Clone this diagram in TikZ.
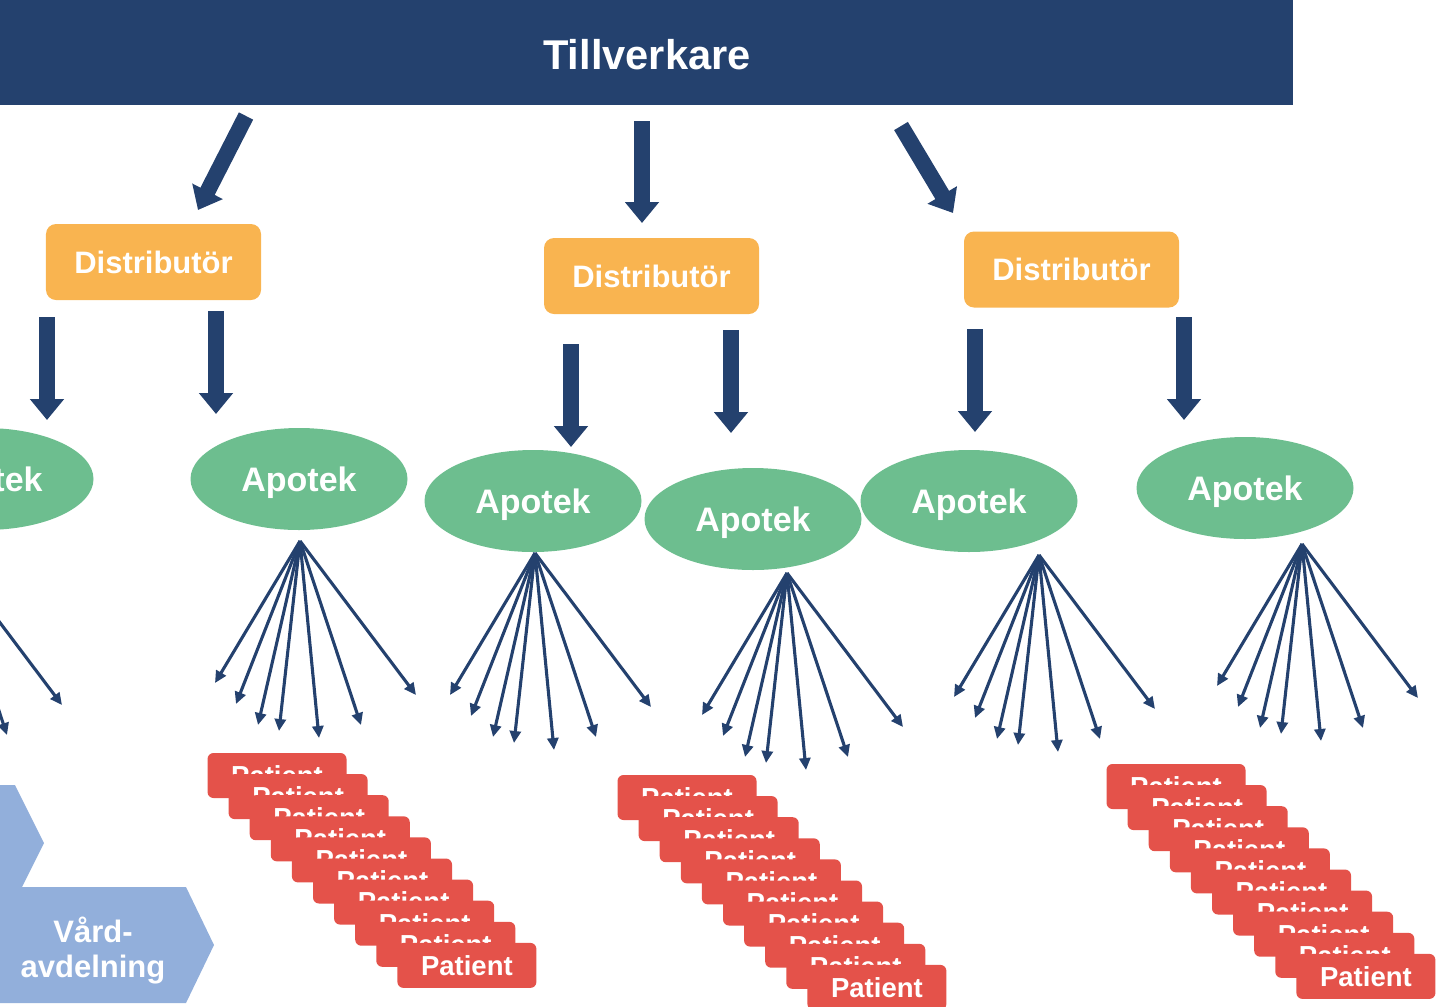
\documentclass[tikz,border=0pt]{standalone}
\usepackage{fontspec}
\setmainfont{Liberation Sans}
\usetikzlibrary{arrows.meta,shapes.geometric,calc}
\definecolor{navy}{HTML}{24416E}
\definecolor{orangec}{HTML}{F9B450}
\definecolor{greenc}{HTML}{6DBE8F}
\definecolor{redc}{HTML}{E4524A}
\definecolor{bluec}{HTML}{92AFDB}
\begin{document}
\begin{tikzpicture}[x=1bp,y=-1bp,
  topbar/.style={fill=navy, minimum width=1293bp, minimum height=105bp, inner sep=0, text=white, font=\bfseries\fontsize{41.6bp}{50bp}\selectfont},
  distbox/.style={fill=orangec, rounded corners=10bp, minimum width=215bp, minimum height=76bp, inner sep=0, text=white, font=\bfseries\fontsize{31bp}{37bp}\selectfont},
  apotek/.style={ellipse, fill=greenc, minimum width=217bp, minimum height=102bp, inner sep=0, text depth=0pt, text=white, font=\bfseries\fontsize{34bp}{40bp}\selectfont},
  patient/.style={fill=redc, rounded corners=6bp, minimum width=139bp, minimum height=45bp, inner sep=0, text=white, font=\bfseries\fontsize{27.5bp}{33bp}\selectfont},
  blockarrow/.style={draw=navy, line width=16bp, -{Triangle[length=21bp,width=33bp]}},
  fanarrow/.style={draw=navy, line width=3.1bp, -{Triangle[length=12bp,width=11bp]}},
  chevron/.style={fill=bluec},
  chevtext/.style={text=white, align=center, font=\bfseries\fontsize{31bp}{35bp}\selectfont}
]
\useasboundingbox (0,0) rectangle (1438,1006);
\clip (0,0) rectangle (1438,1006);

% top bar
\node[topbar, anchor=north west] (till) at (0,0) {};
\node[text=white, font=\bfseries\fontsize{41.6bp}{50bp}\selectfont] (tilltxt) at (647,55) {Tillverkare};

% distributors
\node[distbox] (d1) at (153.5,262) {Distributör};
\node[distbox] (d2) at (651.5,276) {Distributör};
\node[distbox] (d3) at (1071.5,269.5) {Distributör};

% apotek
\node[apotek] (a0) at (-15,479) {Apotek};
\node[apotek] (a1) at (299,479) {Apotek};
\node[apotek] (a2) at (533,501) {Apotek};
\node[apotek] (a3) at (753,519) {Apotek};
\node[apotek] (a4) at (969,501) {Apotek};
\node[apotek] (a5) at (1245,488) {Apotek};

% block arrows from manufacturer
\coordinate (t1s) at (246,116); \coordinate (t1e) at (198,210);
\coordinate (t2s) at (642,121); \coordinate (t2e) at (642,223);
\coordinate (t3s) at (901,126); \coordinate (t3e) at (953,213);
\draw[blockarrow] (t1s) -- (t1e);
\draw[blockarrow] (t2s) -- (t2e);
\draw[blockarrow] (t3s) -- (t3e);

% block arrows from distributors
\foreach \n/\x/\ys/\ye in {1/47/317/420,2/216/311/414,3/571/344/447,4/731/330/433,5/975/329/432,6/1184/317/420}{
  \coordinate (v\n s) at (\x,\ys);
  \coordinate (v\n e) at (\x,\ye);
  \draw[blockarrow] (v\n s) -- (v\n e);
}

% fan arrows
\foreach \f/\ox/\oy in {0/-54/551,1/300/541,2/535/553,3/787/573,4/1039/555,5/1302/544}{
  \coordinate (fo\f) at (\ox,\oy);
  \foreach \k/\dx/\dy in {1/-85/142,2/-64/163,3/-42/184,4/-21/190,5/19/197,6/61/184,7/116/154}{
    \coordinate (fe\f-\k) at ($(fo\f)+(\dx,\dy)$);
    \draw[fanarrow] (fo\f) -- (fe\f-\k);
  }
}

% chevrons
\fill[chevron] (-10,785) -- (15,785) -- (44,843) -- (15,901) -- (-10,901) -- cycle;
\fill[chevron] (-10,887) -- (186,887) -- (214,945) -- (186,1003) -- (-10,1003) -- cycle;
\node[chevtext] (vard) at (93,951) {Vård-\\avdelning};

% patient stacks
\foreach \s/\px/\py in {1/207/753,2/617/775,3/1106/764}{
  \foreach \i in {0,...,9}{
    \node[patient] (p\s-\i) at ({\px+70+21.1*\i},{\py+22.5+21.1*\i}) {Patient};
  }
}
\end{tikzpicture}
\end{document}
